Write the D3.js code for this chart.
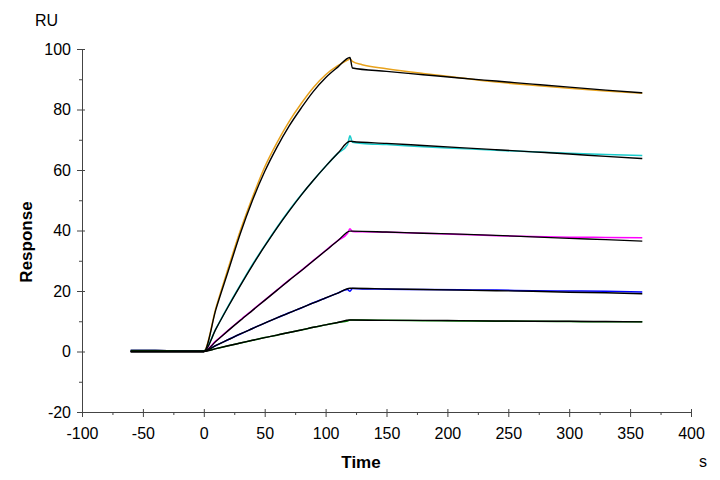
<!DOCTYPE html>
<html>
<head>
<meta charset="utf-8">
<script src="https://cdn.jsdelivr.net/npm/d3@7"></script>
<style>
  body { margin: 0; background: #fff; }
  text { font-family: "Liberation Sans", Arial, sans-serif; }
</style>
</head>
<body>
<div class="chart"></div>
<script>
// time points (s) of the fitted curves and of the measured curves
const fitTime = [-60, 0, 10, 20, 30, 40, 50, 60, 70, 80, 90, 100, 110, 120, 122, 150, 180, 210, 240, 270, 300, 330, 360];
const obsTime = [-60, -40, -20, 0, 10, 20, 30, 40, 50, 60, 70, 80, 90, 100, 110, 118, 120, 122, 130, 150, 180, 210, 240, 270, 300, 330, 360];

// fitted curves (black)
const fit1 = [0, 0, 14, 26.5, 39, 50, 59.5, 67.5, 74.5, 80.5, 86, 90.5, 94, 97.2, 93.7, 92.6, 91.5, 90.4, 89.4, 88.4, 87.4, 86.4, 85.5];
const fit2 = [0, 0, 7.5, 14.8, 21.8, 28.5, 34.8, 40.8, 46.4, 51.7, 56.6, 61.2, 65.5, 69.5, 69.4, 68.8, 68.1, 67.4, 66.7, 66.0, 65.3, 64.5, 63.8];
const fit3 = [0, 0, 3.4, 6.9, 10.3, 13.6, 16.9, 20.2, 23.5, 26.7, 30, 33.3, 36.6, 39.8, 39.8, 39.5, 39.1, 38.8, 38.4, 37.9, 37.4, 37.0, 36.5];
const fit4 = [0, 0, 2.0, 3.9, 5.8, 7.6, 9.4, 11.1, 12.8, 14.4, 16.1, 17.7, 19.3, 20.9, 20.9, 20.7, 20.5, 20.3, 20.1, 19.9, 19.6, 19.4, 19.1];
const fit5 = [0, 0, 0.95, 1.9, 2.8, 3.7, 4.6, 5.4, 6.3, 7.1, 8.0, 8.8, 9.6, 10.4, 10.4, 10.3, 10.3, 10.2, 10.1, 10.0, 10.0, 9.9, 9.8];

// measured curves (coloured)
const obs1 = [0.3, 0.3, 0.2, 0.2, 14.5, 27.5, 40, 51, 61, 69, 76, 82, 87.3, 91.5, 94.5, 96.3, 96.8, 95.9, 94.8, 93.5, 91.9, 90.5, 89.1, 88.0, 87.0, 86.1, 85.4];
const obs2 = [0.3, 0.3, 0.2, 0.2, 7.6, 15, 22, 28.8, 35, 41, 46.6, 51.8, 56.6, 61.2, 65.5, 68.4, 71.3, 69.2, 68.8, 68.4, 67.7, 67.1, 66.5, 66.0, 65.5, 65.1, 64.8];
const obs3 = [0.3, 0.3, 0.2, 0.2, 3.5, 7.0, 10.4, 13.7, 17, 20.3, 23.6, 26.8, 30.1, 33.4, 36.7, 39.1, 40.6, 39.7, 39.6, 39.4, 39.1, 38.7, 38.3, 38.0, 37.8, 37.7, 37.6];
const obs4 = [0.3, 0.3, 0.2, 0.2, 2.0, 3.9, 5.8, 7.6, 9.4, 11.1, 12.8, 14.4, 16.1, 17.7, 19.3, 20.5, 19.9, 20.8, 20.7, 20.6, 20.5, 20.4, 20.3, 20.1, 20.0, 19.9, 19.7];
const obs5 = [0.3, 0.3, 0.2, 0.2, 0.95, 1.9, 2.8, 3.7, 4.6, 5.4, 6.3, 7.1, 8.0, 8.8, 9.6, 10.1, 10.4, 10.4, 10.4, 10.3, 10.2, 10.1, 10.0, 10.0, 9.9, 9.8, 9.8];
const obsColors = ['#e8a21c', '#1ccccc', '#ff00ff', '#0000ff', '#008000'];

// ticks
const xTicks = [-100, -50, 0, 50, 100, 150, 200, 250, 300, 350, 400];
const xMinor = [-75, -25, 25, 75, 125, 175, 225, 275, 325, 375];
const yTicks = [-20, 0, 20, 40, 60, 80, 100];
const yMinor = [-10, 10, 30, 50, 70, 90];

const svg_width = 720;
const svg_height = 480;
const plot = { left: 82, right: 691, top: 49, bottom: 412 };

const svg = d3.select('.chart').append('svg')
    .attr('width', svg_width).attr('height', svg_height);

const xScale = d3.scaleLinear().domain([-100, 400]).range([plot.left, plot.right]);
const yScale = d3.scaleLinear().domain([-20, 100]).range([plot.bottom, plot.top]);

const line = d3.line()
    .x(d => xScale(d[0]))
    .y(d => yScale(d[1]))
    .curve(d3.curveMonotoneX);

// measured curves first, fits drawn on top
[obs1, obs2, obs3, obs4, obs5].forEach((vals, i) => {
    svg.append('path')
        .datum(obsTime.map((t, j) => [t, vals[j]]))
        .attr('d', line)
        .attr('fill', 'none')
        .attr('stroke', obsColors[i])
        .attr('stroke-width', 1.5);
});
[fit1, fit2, fit3, fit4, fit5].forEach(vals => {
    svg.append('path')
        .datum(fitTime.map((t, j) => [t, vals[j]]))
        .attr('d', line)
        .attr('fill', 'none')
        .attr('stroke', '#000')
        .attr('stroke-width', 1.4);
});

// plain hyphen for negatives, as in the original
const plainTick = d => String(d);

// axes
const xAxis = d3.axisBottom(xScale).tickValues(xTicks).tickFormat(plainTick)
    .tickSizeInner(5).tickSizeOuter(0).tickPadding(11);
const xAxisDraw = svg.append('g').attr('class', 'x axis')
    .attr('transform', `translate(0,${plot.bottom})`)
    .call(xAxis);
xAxisDraw.selectAll('.tick line').attr('y1', -3);

const xMinorDraw = svg.append('g')
    .attr('transform', `translate(0,${plot.bottom})`)
    .call(d3.axisBottom(xScale).tickValues(xMinor).tickFormat('').tickSize(3));
xMinorDraw.select('.domain').remove();

const yAxis = d3.axisLeft(yScale).tickValues(yTicks).tickFormat(plainTick)
    .tickSizeInner(5).tickSizeOuter(0).tickPadding(6);
const yAxisDraw = svg.append('g').attr('class', 'y axis')
    .attr('transform', `translate(${plot.left},0)`)
    .call(yAxis);
yAxisDraw.selectAll('.tick line').attr('x1', 3);

const yMinorDraw = svg.append('g')
    .attr('transform', `translate(${plot.left},0)`)
    .call(d3.axisLeft(yScale).tickValues(yMinor).tickFormat('').tickSize(3));
yMinorDraw.select('.domain').remove();

svg.selectAll('.domain, .tick line').attr('stroke', '#444');
svg.selectAll('.tick text')
    .style('font-family', '"Liberation Sans", Arial, sans-serif')
    .style('font-size', '16px')
    .attr('fill', '#000');

// labels
svg.append('text').text('RU')
    .attr('x', 35).attr('y', 26)
    .style('font-size', '16px');
svg.append('text').text('Response')
    .attr('transform', 'translate(32,242) rotate(-90)')
    .attr('text-anchor', 'middle')
    .style('font-size', '17px').style('font-weight', 'bold');
svg.append('text').text('Time')
    .attr('x', 361).attr('y', 468)
    .attr('text-anchor', 'middle')
    .style('font-size', '17px').style('font-weight', 'bold');
svg.append('text').text('s')
    .attr('x', 699).attr('y', 467)
    .style('font-size', '16px');
</script>
</body>
</html>
